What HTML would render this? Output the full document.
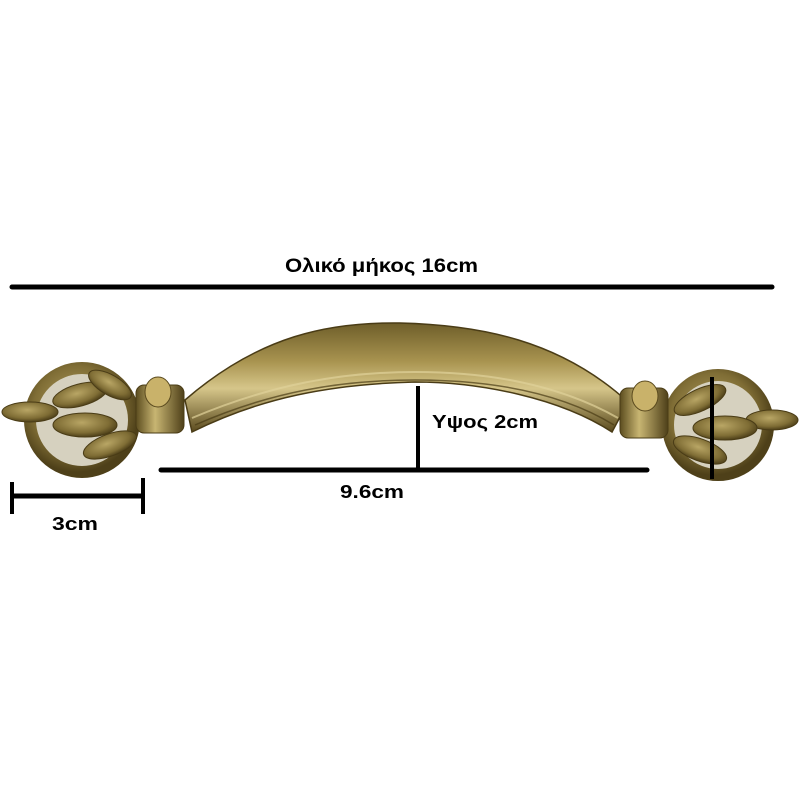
<!DOCTYPE html>
<html><head><meta charset="utf-8"><style>
html,body{margin:0;padding:0;background:#fff;}
svg{display:block}
text{font-family:"Liberation Sans",sans-serif;font-weight:bold;fill:#000;}
</style></head><body>
<svg width="800" height="800" viewBox="0 0 800 800" xmlns="http://www.w3.org/2000/svg">
<defs>
<linearGradient id="br" x1="0" y1="0" x2="0" y2="1">
<stop offset="0" stop-color="#6e5e2a"/>
<stop offset="0.35" stop-color="#a8934f"/>
<stop offset="0.6" stop-color="#d6c68a"/>
<stop offset="1" stop-color="#5a4a1e"/>
</linearGradient>
<radialGradient id="ro" cx="0.45" cy="0.4" r="0.6">
<stop offset="0" stop-color="#b9a665"/>
<stop offset="0.7" stop-color="#7f6d35"/>
<stop offset="1" stop-color="#4e4019"/>
</radialGradient>
<linearGradient id="post" x1="0" y1="0" x2="1" y2="0">
<stop offset="0" stop-color="#5c4d1f"/>
<stop offset="0.4" stop-color="#c8b572"/>
<stop offset="1" stop-color="#4e4019"/>
</linearGradient>
</defs>

<!-- arch -->
<path d="M185,400 C260,335 330,322 400,323 C480,325 560,340 628,402 L612,432 C560,398 480,382 415,382 C330,384 260,398 192,432 Z" fill="url(#br)" stroke="#4a3c16" stroke-width="1.5"/>
<path d="M192,418 C270,385 340,372 415,372 C490,372 560,385 618,418" fill="none" stroke="#e0d29a" stroke-width="2" opacity="0.7"/>
<path d="M195,425 C270,392 340,380 415,380 C490,380 560,392 614,425" fill="none" stroke="#4a3c16" stroke-width="1.5" opacity="0.7"/>

<!-- left rosette -->
<circle cx="82" cy="420" r="52" fill="#8a7a48" fill-opacity="0.35" stroke="url(#ro)" stroke-width="12"/>
<ellipse cx="30" cy="412" rx="28" ry="10" fill="url(#ro)" stroke="#4a3c16"/>
<ellipse cx="80" cy="395" rx="28" ry="11" fill="url(#ro)" stroke="#4a3c16" transform="rotate(-15 80 395)"/>
<ellipse cx="110" cy="385" rx="24" ry="10" fill="url(#ro)" stroke="#4a3c16" transform="rotate(30 110 385)"/>
<ellipse cx="85" cy="425" rx="32" ry="12" fill="url(#ro)" stroke="#4a3c16"/>
<ellipse cx="110" cy="445" rx="28" ry="11" fill="url(#ro)" stroke="#4a3c16" transform="rotate(-20 110 445)"/>
<!-- left post -->
<rect x="136" y="385" width="48" height="48" rx="8" fill="url(#post)" stroke="#4a3c16"/>
<ellipse cx="158" cy="392" rx="13" ry="15" fill="#c9b26a" stroke="#5a4a1e"/>

<!-- right rosette -->
<circle cx="718" cy="425" r="50" fill="#8a7a48" fill-opacity="0.35" stroke="url(#ro)" stroke-width="12"/>
<ellipse cx="772" cy="420" rx="26" ry="10" fill="url(#ro)" stroke="#4a3c16"/>
<ellipse cx="700" cy="400" rx="28" ry="11" fill="url(#ro)" stroke="#4a3c16" transform="rotate(-25 700 400)"/>
<ellipse cx="725" cy="428" rx="32" ry="12" fill="url(#ro)" stroke="#4a3c16"/>
<ellipse cx="700" cy="450" rx="28" ry="11" fill="url(#ro)" stroke="#4a3c16" transform="rotate(20 700 450)"/>
<!-- right post -->
<rect x="620" y="388" width="48" height="50" rx="8" fill="url(#post)" stroke="#4a3c16"/>
<ellipse cx="645" cy="396" rx="13" ry="15" fill="#c9b26a" stroke="#5a4a1e"/>

<!-- dimension lines -->
<line x1="12" y1="287" x2="772" y2="287" stroke="#000" stroke-width="5" stroke-linecap="round"/>
<text x="285" y="272" font-size="19" textLength="193" lengthAdjust="spacingAndGlyphs">Ολικό μήκος 16cm</text>

<line x1="161" y1="470" x2="647" y2="470" stroke="#000" stroke-width="5" stroke-linecap="round"/>
<line x1="418" y1="386" x2="418" y2="471" stroke="#000" stroke-width="4"/>
<text x="432" y="428" font-size="18" textLength="106" lengthAdjust="spacingAndGlyphs">Υψος 2cm</text>
<text x="340" y="498" font-size="18" textLength="64" lengthAdjust="spacingAndGlyphs">9.6cm</text>

<line x1="712" y1="377" x2="712" y2="479" stroke="#000" stroke-width="4"/>

<line x1="12" y1="496" x2="143" y2="496" stroke="#000" stroke-width="5"/>
<line x1="12" y1="482" x2="12" y2="514" stroke="#000" stroke-width="4"/>
<line x1="143" y1="478" x2="143" y2="514" stroke="#000" stroke-width="4"/>
<text x="52" y="530" font-size="18" textLength="46" lengthAdjust="spacingAndGlyphs">3cm</text>
</svg>
</body></html>
